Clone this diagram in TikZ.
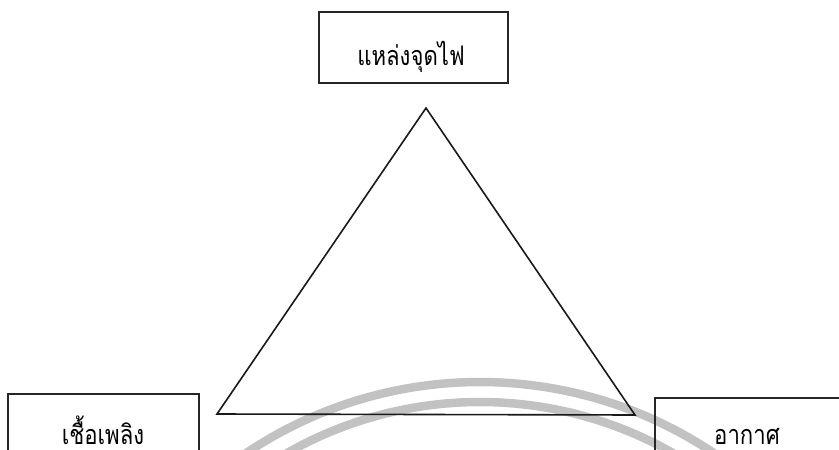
\documentclass[tikz,border=0pt]{standalone}
\usepackage{fontspec}
\newfontfamily\thaifont[Script=Thai,FakeStretch=0.82]{Loma}
\begin{document}
\begin{tikzpicture}[x=1pt,y=-1pt,
  boxline/.style={draw=black!85,line width=2pt},
  triline/.style={draw=black!90,line width=1.6pt,line join=miter},
  wm/.style={draw=black!24,line width=8.5pt},
  lbl/.style={font=\thaifont\fontsize{27}{29}\selectfont,anchor=base,inner sep=0pt,text depth=0pt}]
\useasboundingbox (0,0) rectangle (839,450);
\fill[white] (0,0) rectangle (839,450);
\begin{scope}
\clip (0,0) rectangle (839,450);
% watermark arcs
\draw[wm] (480,802) ++(-125:420) arc[start angle=-125,end angle=-55,radius=420];
\draw[wm] (480,792) ++(-128:390) arc[start angle=-128,end angle=-52,radius=390];
% triangle
\coordinate (apex) at (426,108);
\coordinate (bl) at (217,414);
\coordinate (br) at (635,415);
\draw[triline] (apex) -- (bl) -- (br) -- cycle;
% boxes
\draw[boxline] (319,12) rectangle (508,83);
\draw[boxline] (8,394) rectangle (199,470);
\draw[boxline] (655,398) rectangle (860,470);
\end{scope}
\node[lbl] (ignition) at (411,65) {แหล่งจุดไฟ};
\node[lbl] (fuel) at (103,444) {เชื้อเพลิง};
\node[lbl] (air) at (747,444) {อากาศ};
\end{tikzpicture}
\end{document}
